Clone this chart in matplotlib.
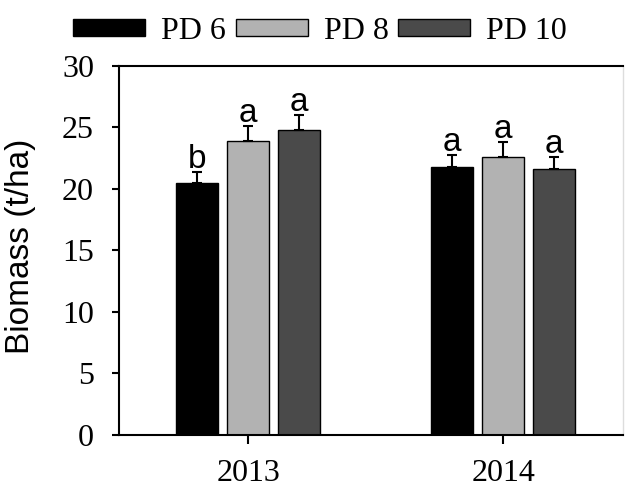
import matplotlib
matplotlib.use("Agg")
import matplotlib.pyplot as plt
import numpy as np

years = ["2013", "2014"]
series = ["PD 6", "PD 8", "PD 10"]
biomass = {
    "PD 6": [20.5, 21.8],
    "PD 8": [23.9, 22.6],
    "PD 10": [24.8, 21.6],
}
errors = {
    "PD 6": [0.85, 0.9],
    "PD 8": [1.2, 1.15],
    "PD 10": [1.15, 0.95],
}
letters = {
    "PD 6": ["b", "a"],
    "PD 8": ["a", "a"],
    "PD 10": ["a", "a"],
}
colors = {"PD 6": "#000000", "PD 8": "#b2b2b2", "PD 10": "#4a4a4a"}
yticks = [0, 5, 10, 15, 20, 25, 30]

serif = ["Liberation Serif", "DejaVu Serif"]
sans = ["Liberation Sans", "DejaVu Sans"]

fig = plt.figure(figsize=(6.25, 4.9), dpi=100)
ax = fig.add_axes([0.1904, 0.1122, 0.8066, 0.7541])

x = np.arange(len(years))
width = 0.165
step = 0.2
handles = []
for i, s in enumerate(series):
    pos = x + (i - 1) * step
    b = ax.bar(pos, biomass[s], width, color=colors[s], edgecolor="black",
               linewidth=1.0, label=s, zorder=2)
    handles.append(b)
    ax.errorbar(pos, biomass[s], yerr=[np.zeros(len(years)), errors[s]],
                fmt="none", ecolor="black", elinewidth=1.5, capsize=3.6,
                capthick=1.5, zorder=3)
    for p, v, e, l in zip(pos, biomass[s], errors[s], letters[s]):
        ax.annotate(l, (p, v + e), xytext=(0, 3), textcoords="offset points",
                    ha="center", va="baseline", fontsize=24, family=sans)

ax.set_xlim(-0.506, 1.47)
ax.set_ylim(0, 30)
ax.set_yticks(yticks)
ax.set_yticklabels([str(t) for t in yticks], fontsize=23, family=serif)
ax.set_xticks(x)
ax.set_xticklabels(years, fontsize=23, family=serif)
ax.tick_params(axis="y", direction="out", length=5, width=1.5, pad=13)
ax.tick_params(axis="x", direction="out", length=6.5, width=1.5, pad=11)
ax.set_ylabel("Biomass (t/ha)", fontsize=24, family=sans)
ax.yaxis.set_label_coords(-0.165, 0.51)

for sp in ["left", "bottom", "top"]:
    ax.spines[sp].set_linewidth(1.5)
    ax.spines[sp].set_color("black")
ax.spines["right"].set_color("#dddddd")
ax.spines["right"].set_linewidth(1.0)

fig.legend(handles=handles, labels=series, loc="center",
           bbox_to_anchor=(0.512, 0.935), ncol=3, frameon=False,
           prop={"family": serif, "size": 23}, handlelength=2.26,
           handleheight=0.44, handletextpad=0.5, columnspacing=0.3,
           borderaxespad=0, borderpad=0)

fig.savefig("out.png", dpi=100)
